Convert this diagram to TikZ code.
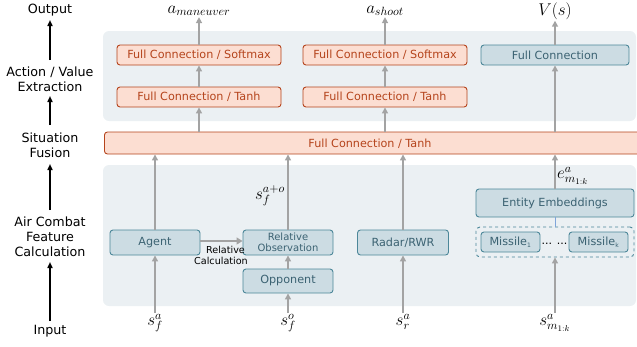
\RequirePackage{fix-cm}
\documentclass[tikz,border=0pt]{standalone}
\usepackage{fontspec}
\setmainfont{DejaVu Sans}
\usetikzlibrary{arrows.meta,calc}
\definecolor{panelbg}{HTML}{EBF0F3}
\definecolor{bluefill}{HTML}{CCDCE3}
\definecolor{blueedge}{HTML}{4C8799}
\definecolor{bluetext}{HTML}{3B6272}
\definecolor{orfill}{HTML}{FCDED2}
\definecolor{oredge}{HTML}{B5441C}
\definecolor{ortext}{HTML}{B5441C}
\definecolor{arrgray}{HTML}{A3A3A3}
\definecolor{linkblue}{HTML}{7FA5DA}
\tikzset{
  panel/.style={fill=panelbg, draw=none, rounded corners=6pt},
  obox/.style={draw=oredge, fill=orfill, text=ortext, line width=0.9pt, rounded corners=3pt,
    font=\fontsize{11.2}{13}\selectfont, inner sep=0pt},
  bbox/.style={draw=blueedge, fill=bluefill, text=bluetext, line width=0.9pt, rounded corners=3pt,
    font=\fontsize{11.2}{13}\selectfont, inner sep=0pt, align=center},
  garr/.style={draw=arrgray, line width=1.8pt, -{Triangle[length=6pt,width=6pt]}},
  karr/.style={draw=black, line width=1.5pt, -{Triangle[length=6pt,width=5pt]}},
  lbl/.style={font=\fontsize{12.7}{15}\selectfont, align=center, inner sep=0pt},
  mlbl/.style={font=\fontsize{17}{20}\selectfont, inner sep=1pt},
}
\begin{document}
\begin{tikzpicture}[x=1pt,y=-1pt]
\useasboundingbox (0,0) rectangle (637,346);
\clip (0,0) rectangle (637,346);
% panels
\fill[panel] (103,31) rectangle (636,121);
\fill[panel] (103,165) rectangle (636,306);
% left labels
\node[lbl] (lout) at (50,10) {Output};
\node[lbl] (lact) at (50,79) {Action / Value\\Extraction};
\node[lbl] (lsit) at (50,145) {Situation\\Fusion};
\node[lbl] (lair) at (50,237) {Air Combat\\Feature\\Calculation};
\node[lbl] (lin) at (50,331) {Input};
\coordinate (k1s) at (50,60); \coordinate (k1e) at (50,20);
\coordinate (k2s) at (50,125); \coordinate (k2e) at (50,96);
\coordinate (k3s) at (50,210); \coordinate (k3e) at (50,164);
\coordinate (k4s) at (50,321); \coordinate (k4e) at (50,262);
\draw[karr] (k1s) -- (k1e);
\draw[karr] (k2s) -- (k2e);
\draw[karr] (k3s) -- (k3e);
\draw[karr] (k4s) -- (k4e);
% top boxes
\node[obox, minimum width=164pt, minimum height=20pt] (sm1) at (199,55) {Full Connection / Softmax};
\node[obox, minimum width=164pt, minimum height=20pt] (sm2) at (385,55) {Full Connection / Softmax};
\node[bbox, minimum width=148pt, minimum height=20pt] (fc) at (555,55) {Full Connection};
\node[obox, minimum width=164pt, minimum height=20pt] (th1) at (199,97) {Full Connection / Tanh};
\node[obox, minimum width=164pt, minimum height=20pt] (th2) at (385,97) {Full Connection / Tanh};
% fusion
\node[obox, minimum width=560pt, minimum height=22pt, anchor=west] (fus) at (104,143) {};
\node[text=ortext, font=\fontsize{11.2}{13}\selectfont, inner sep=0pt] (fust) at (370,144) {Full Connection / Tanh};
% outputs
\node[mlbl] (o1) at (199,11) {$a_{maneuver}$};
\node[mlbl] (o2) at (385,11) {$a_{shoot}$};
\node[mlbl] (o3) at (555,11) {$V(s)$};
% bottom boxes
\node[bbox, minimum width=90pt, minimum height=25pt] (agent) at (155,242.5) {Agent};
\node[bbox, minimum width=90pt, minimum height=25pt, font=\fontsize{10}{11}\selectfont] (relobs) at (288,242.5) {Relative\\Observation};
\node[bbox, minimum width=90pt, minimum height=24pt] (opp) at (288,281) {Opponent};
\node[bbox, minimum width=91pt, minimum height=25pt] (radar) at (403,242.5) {Radar/RWR};
\node[bbox, minimum width=158pt, minimum height=28pt] (ent) at (555,203) {Entity Embeddings};
\node[draw=blueedge, dashed, line width=0.9pt, rounded corners=4pt, minimum width=158pt, minimum height=30pt, inner sep=0pt] (grp) at (555,242) {};
\node[bbox, minimum width=59pt, minimum height=20pt] (m1) at (510.5,242) {Missile\textsubscript{\fontsize{6}{7}\selectfont 1}};
\node[bbox, minimum width=59pt, minimum height=20pt] (mk) at (598.5,242) {Missile\textsubscript{\fontsize{6}{7}\selectfont k}};
\node[inner sep=0pt, font=\fontsize{11}{13}\selectfont] (dots) at (554.5,244) {... ...};
% inputs
\node[mlbl, anchor=north] (i1) at (155,313) {$s_f^a$};
\node[mlbl, anchor=north] (i2) at (288,313) {$s_f^o$};
\node[mlbl, anchor=north] (i3) at (403,313) {$s_r^a$};
\node[mlbl, anchor=north] (i4) at (555,313) {$s_{m_{1:k}}^a$};
% arrows top
\draw[garr] (sm1.north) -- (o1.south);
\draw[garr] (sm2.north) -- (o2.south);
\draw[garr] (fc.north) -- (o3.south);
\draw[garr] (th1.north) -- (sm1.south);
\draw[garr] (th2.north) -- (sm2.south);
\draw[garr] (fus.north -| th1) -- (th1.south);
\draw[garr] (fus.north -| th2) -- (th2.south);
\draw[garr] (fus.north -| fc) -- (fc.south);
% arrows bottom
\draw[garr] (agent.north) -- (agent.north |- fus.south);
\draw[garr] (relobs.north) -- (relobs.north |- fus.south);
\draw[garr] (radar.north) -- (radar.north |- fus.south);
\draw[garr] (ent.north) -- (ent.north |- fus.south);
\draw[garr] (opp.north) -- (relobs.south);
\draw[garr] (i1.north) -- (agent.south);
\draw[garr] (i2.north) -- (opp.south);
\draw[garr] (i3.north) -- (radar.south);
\draw[garr] (i4.north) -- (grp.south);
\draw[draw=linkblue, line width=1pt] (grp.north) -- (ent.south);
\draw[draw=arrgray, line width=2.8pt, -{Triangle[length=6pt,width=7pt]}] ($(agent.east)+(0,-1.5)$) -- ($(relobs.west)+(0,-1.5)$);
\node[font=\fontsize{9.6}{11.5}\selectfont, align=center, inner sep=0pt] (rc) at (221,255.5) {\hspace*{9pt}Relative\\Calculation};
% side labels
\node[mlbl, anchor=east] (sfao) at (286,196) {$s_f^{a+o}$};
\node[mlbl, anchor=west] (elab) at (556,176) {$e_{m_{1:k}}^a$};
\end{tikzpicture}
\end{document}
